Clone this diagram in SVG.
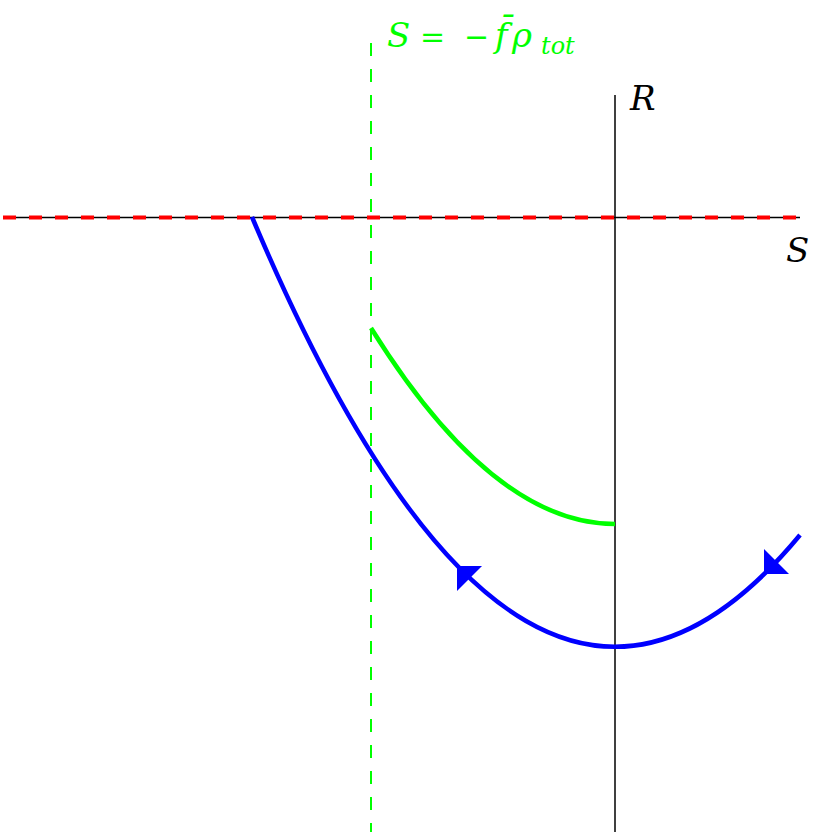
<svg xmlns="http://www.w3.org/2000/svg" width="828" height="832" viewBox="0 0 828 832">
<style>
.axis{stroke:#000;stroke-width:1.5;fill:none}
.reddash{stroke:#ff0000;stroke-width:4;stroke-dasharray:13 13;fill:none}
.greendash{stroke:#00ff00;stroke-width:2;stroke-dasharray:13 13;fill:none}
.green{stroke:#00ff00;stroke-width:4.5;fill:none}
.blue{stroke:#0000ff;stroke-width:4.5;fill:none}
.lbl{font-family:"DejaVu Serif","Liberation Serif",serif;font-style:italic;font-size:34px}
</style>
<defs>
<polygon id="ah" points="0,0 -17.7,-17.7 -17.7,17.7" fill="#0000ff"/>
</defs>
<rect width="828" height="832" fill="#fff"/>
<g id="axes">
<line class="axis" x1="3" y1="217.5" x2="800" y2="217.5"/>
<line class="axis" x1="615" y1="95" x2="615" y2="832"/>
</g>
<g id="connectors">
<line class="reddash" x1="3" y1="217.5" x2="800" y2="217.5"/>
<line class="greendash" x1="371" y1="43" x2="371" y2="832"/>
<path class="green" d="M371,328 Q493,524 615,524"/>
<path class="blue" d="M252,217 Q526,866 800,535"/>
<use href="#ah" transform="translate(457,566) rotate(225)"/>
<use href="#ah" transform="translate(764,574) rotate(135)"/>
</g>
<g id="labels">
<text class="lbl" x="630" y="110" font-size="36">R</text>
<text class="lbl" x="786" y="262" font-size="36">S</text>
<text class="lbl" fill="#00ff00" y="47"><tspan x="387">S</tspan><tspan x="420" font-style="normal" font-size="30">=</tspan><tspan x="464" font-style="normal" font-size="30">−</tspan><tspan x="495">f̄</tspan><tspan x="512">ρ</tspan><tspan x="541" y="54" font-size="24">tot</tspan></text>
</g>
</svg>
